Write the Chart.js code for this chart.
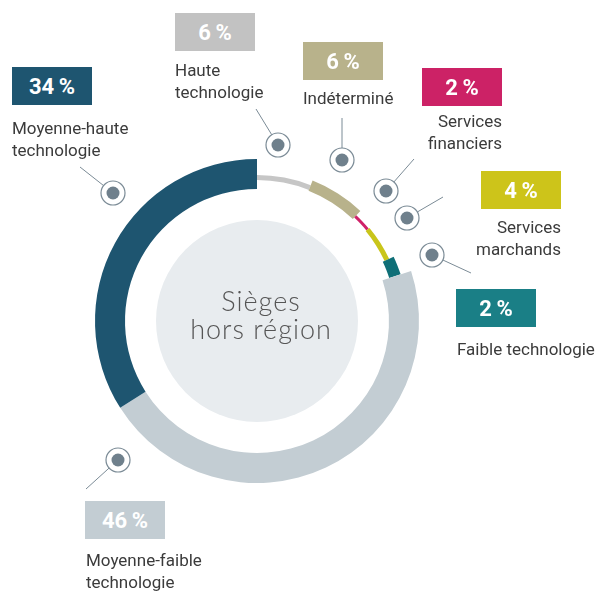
<!DOCTYPE html>
<html lang="fr">
<head>
<meta charset="utf-8">
<script src="https://cdn.jsdelivr.net/npm/chart.js@4"></script>
<style>
  body { margin: 0; background: #fff; }
  #wrap { position: relative; width: 598px; height: 592px; overflow: hidden; }
  #ring { position: absolute; left: 0; top: 0; }
  .box {
    position: absolute; width: 80px; height: 38px;
    display: flex; align-items: center; justify-content: center;
    color: #fff; font: 700 22px Roboto, sans-serif;
  }
  .lbl {
    position: absolute; font: 17px Roboto, sans-serif; color: #3b3b3b;
    line-height: 22px; white-space: nowrap;
  }
  .lbl.right { text-align: right; }
  #center {
    position: absolute; left: 141px; top: 287px; width: 240px;
    text-align: center; font: 300 27px Lato, sans-serif; color: #555;
    line-height: 28px; letter-spacing: 1px;
  }
</style>
</head>
<body>
<div id="wrap">
  <canvas id="ring" width="598" height="592"></canvas>
  <div id="center">Sièges<br>hors région</div>
</div>
<script>
  // Répartition des sièges hors région (en %)
  const categories = [
    "Haute technologie",
    "Indéterminé",
    "Services financiers",
    "Services marchands",
    "Faible technologie",
    "Moyenne-faible technologie",
    "Moyenne-haute technologie",
  ];
  const shares = [6, 6, 2, 4, 2, 46, 34];
  const labelLines = [
    ["Haute", "technologie"],
    ["Indéterminé"],
    ["Services", "financiers"],
    ["Services", "marchands"],
    ["Faible technologie"],
    ["Moyenne-faible", "technologie"],
    ["Moyenne-haute", "technologie"],
  ];

  // styles
  const ringColors = ["#c6c6c6", "#b8b28b", "#cf2268", "#c9c51b", "#0f6f77", "#c3cdd3", "#1e5570"];
  const boxColors = ["#c2c2c2", "#b8b28b", "#cc2266", "#cdc41a", "#1a7f86", "#c3cdd3", "#1e5570"];
  const ringBands = [[141, 146], [140, 151], [142, 145], [141, 146], [139, 151], [132, 162], [132, 162]];

  // callout layout: box, text, marker, leader line start
  const callouts = [
    { box: [175, 13], text: [175, 59, "left"], dot: [278, 145], from: [256, 109] },
    { box: [303, 42], text: [303, 87, "left"], dot: [342, 160], from: [342, 118] },
    { box: [422, 68], text: [502, 110, "right"], dot: [386, 191], from: [414, 159] },
    { box: [481, 171], text: [561, 216, "right"], dot: [407, 218], from: [443, 197] },
    { box: [456, 289], text: [457, 338, "left"], dot: [432, 255], from: [471, 273] },
    { box: [85, 501], text: [86, 549, "left"], dot: [118, 460], from: [86, 489] },
    { box: [12, 67], text: [12, 117, "left"], dot: [113, 193], from: [80, 167] },
  ];

  const wrap = document.getElementById("wrap");
  callouts.forEach((c, i) => {
    const b = document.createElement("div");
    b.className = "box";
    b.style.left = c.box[0] + "px";
    b.style.top = c.box[1] + "px";
    b.style.background = boxColors[i];
    b.textContent = shares[i] + "\u2009%";
    wrap.appendChild(b);

    const t = document.createElement("div");
    t.className = "lbl" + (c.text[2] === "right" ? " right" : "");
    t.style.top = c.text[1] + "px";
    if (c.text[2] === "right") t.style.right = (598 - c.text[0]) + "px";
    else t.style.left = c.text[0] + "px";
    t.innerHTML = labelLines[i].join("<br>");
    wrap.appendChild(t);
  });

  const bandsPlugin = {
    id: "bands",
    beforeDatasetsDraw(chart) {
      const meta = chart.getDatasetMeta(0);
      meta.data.forEach((arc, i) => {
        arc.innerRadius = ringBands[i][0];
        arc.outerRadius = ringBands[i][1];
      });
      const a = meta.data[0];
      const ctx = chart.ctx;
      ctx.save();
      ctx.fillStyle = "#e8ecef";
      ctx.beginPath();
      ctx.arc(a.x, a.y, 101, 0, Math.PI * 2);
      ctx.fill();
      ctx.restore();
    },
    afterDraw(chart) {
      const ctx = chart.ctx;
      ctx.save();
      callouts.forEach((c) => {
        const [x, y] = c.dot;
        const [fx, fy] = c.from;
        const d = Math.hypot(x - fx, y - fy);
        ctx.strokeStyle = "#7b8b96";
        ctx.lineWidth = 1;
        ctx.beginPath();
        ctx.moveTo(fx, fy);
        ctx.lineTo(x + (fx - x) * 12 / d, y + (fy - y) * 12 / d);
        ctx.stroke();
        ctx.lineWidth = 1.2;
        ctx.beginPath();
        ctx.arc(x, y, 12, 0, Math.PI * 2);
        ctx.stroke();
        ctx.fillStyle = "#6f808c";
        ctx.beginPath();
        ctx.arc(x, y, 6.5, 0, Math.PI * 2);
        ctx.fill();
      });
      ctx.restore();
    },
  };

  new Chart(document.getElementById("ring"), {
    type: "doughnut",
    data: {
      labels: categories,
      datasets: [{ data: shares, backgroundColor: ringColors, borderWidth: 0 }],
    },
    options: {
      responsive: false,
      animation: false,
      events: [],
      layout: { padding: { left: 0, right: 84, top: 50, bottom: 0 } },
      plugins: { legend: { display: false }, tooltip: { enabled: false } },
    },
    plugins: [bandsPlugin],
  });
</script>
</body>
</html>
